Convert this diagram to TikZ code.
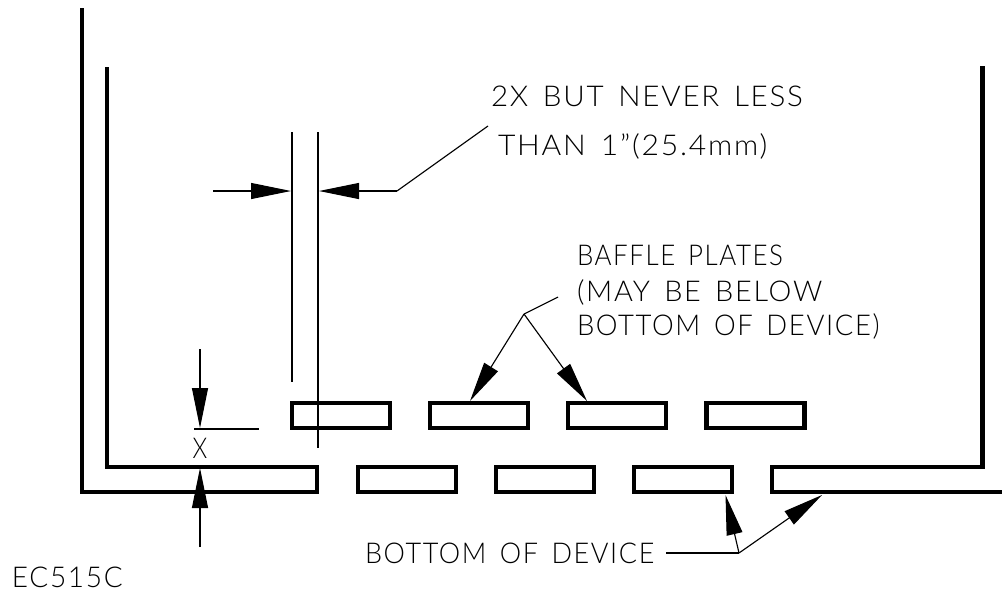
\documentclass[tikz,border=0pt]{standalone}
\usepackage{fontspec}
\usepackage{graphicx}
\usetikzlibrary{arrows.meta}
\newfontfamily\cadfont[LetterSpace=6,WordSpace=1.5]{Lato Light}
\newcommand{\fitw}[2]{\resizebox{#1}{\height}{#2}}
\tikzset{
  x=0.75pt,y=-0.75pt,
  wall/.style={line width=3.4pt,line join=miter,line cap=butt},
  plate/.style={draw,line width=3.4pt,rectangle,minimum width=73.5pt,minimum height=18.75pt,inner sep=0pt,outer sep=0pt},
  ext/.style={line width=1.5pt},
  leader/.style={line width=0.85pt},
  tip/.style={-{Triangle[length=30pt,width=12pt]}},
  cad/.style={anchor=base west,inner sep=0pt,outer sep=0pt,font=\cadfont\fontsize{21.5pt}{24pt}\selectfont}
}
\begin{document}
\begin{tikzpicture}
\useasboundingbox (0,0) rectangle (1002,594);
% walls
\draw[wall] (82,8) -- (82,492) -- (317,492) -- (317,467) -- (107,467) -- (107,67);
\draw[wall] (1002,492) -- (772,492) -- (772,467) -- (982.3,467) -- (982.3,66);
% plates
\node[plate] (t1) at (341,415.5) {};
\node[plate] (t2) at (479,415.5) {};
\node[plate] (t3) at (617,415.5) {};
\node[plate] (t4) at (755.5,415.5) {};
\node[plate] (b1) at (407,479.5) {};
\node[plate] (b2) at (545,479.5) {};
\node[plate] (b3) at (683,479.5) {};
% extension lines
\coordinate (e1a) at (292,132); \coordinate (e1b) at (292,382);
\coordinate (e2a) at (318,132); \coordinate (e2b) at (318,448);
\draw[ext] (e1a) -- (e1b);
\draw[ext] (e2a) -- (e2b);
\coordinate (h1) at (194,429); \coordinate (h2) at (259,429);
\draw[ext] (h1) -- (h2);
% width dimension
\coordinate (wl) at (213,191); \coordinate (wlt) at (291,191);
\coordinate (wr) at (397,191); \coordinate (wrt) at (319,191);
\coordinate (wn) at (488,126);
\draw[leader,tip] (wl) -- (wlt);
\draw[leader] (wn) -- (wr);
\draw[leader,tip] (wr) -- (wrt);
% X dimension
\coordinate (xa) at (200,349); \coordinate (xat) at (200,428);
\coordinate (xb) at (200,547); \coordinate (xbt) at (200,468);
\draw[leader,tip] (xa) -- (xat);
\draw[leader,tip] (xb) -- (xbt);
% baffle leaders
\coordinate (ba) at (558,297); \coordinate (bb) at (524,314);
\coordinate (bt1) at (470,401); \coordinate (bt2) at (587,401);
\draw[leader] (ba) -- (bb);
\draw[leader,tip] (bb) -- (bt1);
\draw[leader,tip] (bb) -- (bt2);
% bottom leaders
\coordinate (da) at (666,553); \coordinate (db) at (739,553);
\coordinate (dt1) at (725.5,495); \coordinate (dt2) at (822,495);
\draw[leader] (da) -- (db);
\draw[leader,tip] (db) -- (dt1);
\draw[leader,tip] (db) -- (dt2);
% text
\node[cad] (l1) at (491,106) {\fitw{234pt}{2X BUT NEVER LESS}};
\node[cad] (l2) at (498,155) {\fitw{202pt}{THAN 1”(25.4mm)}};
\node[cad] (l3) at (577,265.5) {\fitw{154.5pt}{BAFFLE PLATES}};
\node[cad] (l4) at (577,301) {\fitw{184pt}{(MAY BE BELOW}};
\node[cad] (l5) at (577,335) {\fitw{227pt}{BOTTOM OF DEVICE)}};
\node[cad] (l6) at (365,563.5) {\fitw{217pt}{BOTTOM OF DEVICE}};
\node[cad] (l7) at (12,587) {\fitw{83pt}{EC515C}};
\node[cad] (l8) at (192.5,458) {\fitw{11pt}{X}};
\end{tikzpicture}
\end{document}
